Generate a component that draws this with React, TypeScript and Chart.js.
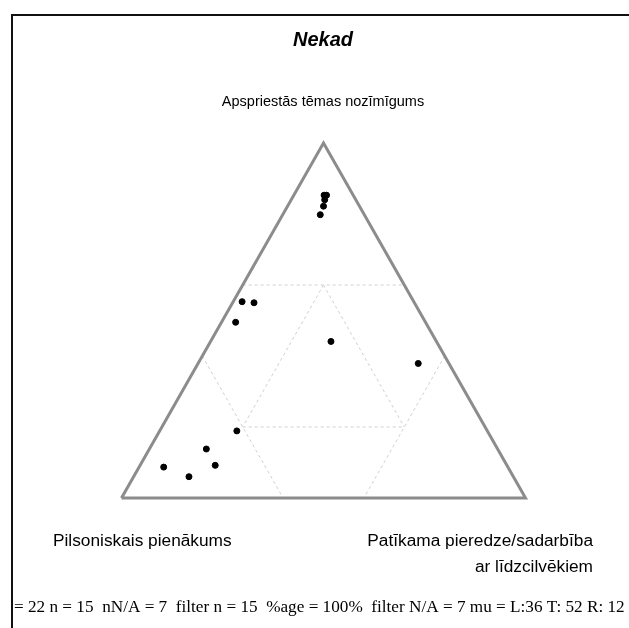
import React, { useEffect, useRef } from "react";
import { Chart, registerables } from "chart.js";

Chart.register(...registerables);

const title = "Nekad";
const axisTop = "Apspriestās tēmas nozīmīgums";
const axisLeft = "Pilsoniskais pienākums";
const axisRight = ["Patīkama pieredze/sadarbība", "ar līdzcilvēkiem"];
const footer = "= 22 n = 15  nN/A = 7  filter n = 15  %age = 100%  filter N/A = 7 mu = L:36 T: 52 R: 12";

// Ternary values in percent (L = Pilsoniskais, T = Apspriestās, R = Patīkama)
const leftValues = [7.2, 6.6, 7.7, 8.9, 10.9, 42.5, 39.7, 47.0, 26.1, 7.6, 62.0, 72.1, 72.2, 85.2, 80.3];
const topValues = [85.3, 85.3, 84.0, 82.2, 79.8, 55.3, 55.0, 49.5, 44.1, 37.9, 18.9, 13.8, 9.2, 8.7, 6.0];
const rightValues = [7.5, 8.1, 8.3, 8.9, 9.3, 2.2, 5.3, 3.5, 29.8, 54.5, 19.1, 14.1, 18.6, 6.1, 13.7];

// Triangle corners and grid segments, as [L, T, R] percent
const outline: number[][] = [[100, 0, 0], [0, 100, 0], [0, 0, 100], [100, 0, 0]];
const gridSegments: number[][][] = [
  [[40, 60, 0], [0, 60, 40]],
  [[60, 40, 0], [60, 0, 40]],
  [[0, 40, 60], [40, 0, 60]],
  [[60, 20, 20], [20, 20, 60]],
  [[20, 60, 20], [20, 20, 60]],
  [[20, 60, 20], [60, 20, 20]],
];

function toXY(l: number, t: number, r: number) {
  const s = l + t + r;
  const T = t / s;
  const R = r / s;
  return { x: R + T / 2, y: T };
}

export default function App() {
  const ref = useRef<HTMLCanvasElement>(null);
  useEffect(() => {
    if (!ref.current) return;
    const points = leftValues.map((l, i) => toXY(l, topValues[i], rightValues[i]));
    const gridDatasets = gridSegments.map((seg) => ({
      type: "line" as const,
      data: seg.map((p) => toXY(p[0], p[1], p[2])),
      borderColor: "#d0d0d0",
      borderWidth: 1,
      borderDash: [3, 3],
      pointRadius: 0,
      showLine: true,
      fill: false,
      clip: false as any,
      order: 3,
    }));
    const textPlugin = {
      id: "texts",
      beforeDraw(chart: any) {
        const ctx = chart.ctx;
        ctx.save();
        ctx.fillStyle = "#fff";
        ctx.fillRect(0, 0, chart.width, chart.height);
        ctx.strokeStyle = "#111";
        ctx.lineWidth = 2;
        ctx.beginPath();
        ctx.moveTo(12, 640);
        ctx.lineTo(12, 15);
        ctx.lineTo(640, 15);
        ctx.stroke();
        ctx.restore();
      },
      afterDraw(chart: any) {
        const ctx = chart.ctx;
        ctx.save();
        ctx.fillStyle = "#000";
        ctx.textBaseline = "alphabetic";
        ctx.font = "italic bold 20px 'Liberation Sans', Arial, sans-serif";
        ctx.textAlign = "center";
        ctx.fillText(title, 323, 46);
        ctx.font = "14.5px 'Liberation Sans', Arial, sans-serif";
        ctx.fillText(axisTop, 323, 106);
        ctx.font = "17.3px 'Liberation Sans', Arial, sans-serif";
        ctx.textAlign = "left";
        ctx.fillText(axisLeft, 53, 546);
        ctx.textAlign = "right";
        ctx.fillText(axisRight[0], 593, 546);
        ctx.fillText(axisRight[1], 593, 572);
        ctx.textAlign = "left";
        ctx.font = "17.2px 'Liberation Serif', 'Times New Roman', serif";
        ctx.fillText(footer, 14, 612);
        ctx.restore();
      },
    };
    const chart = new Chart(ref.current, {
      type: "scatter",
      data: {
        datasets: [
          {
            type: "scatter" as const,
            data: points,
            backgroundColor: "#000",
            borderColor: "#000",
            pointRadius: 3,
            pointHoverRadius: 3,
            clip: false as any,
            order: 1,
          },
          {
            type: "line" as const,
            data: outline.map((p) => toXY(p[0], p[1], p[2])),
            borderColor: "#8c8c8c",
            borderWidth: 3,
            pointRadius: 0,
            showLine: true,
            fill: false,
            clip: false as any,
            borderJoinStyle: "miter",
            order: 2,
          } as any,
          ...gridDatasets,
        ],
      },
      options: {
        responsive: false,
        animation: false,
        events: [],
        layout: { padding: { left: 121.5, right: 103.5, top: 143, bottom: 130 } },
        plugins: { legend: { display: false }, tooltip: { enabled: false }, title: { display: false } },
        scales: {
          x: { type: "linear", min: 0, max: 1, display: false },
          y: { type: "linear", min: 0, max: 1, display: false },
        },
      },
      plugins: [textPlugin],
    });
    return () => chart.destroy();
  }, []);
  return (
    <div style={{ position: "absolute", left: 0, top: 0, width: 629, height: 628 }}>
      <canvas ref={ref} width={629} height={628} style={{ display: "block" }} />
    </div>
  );
}
